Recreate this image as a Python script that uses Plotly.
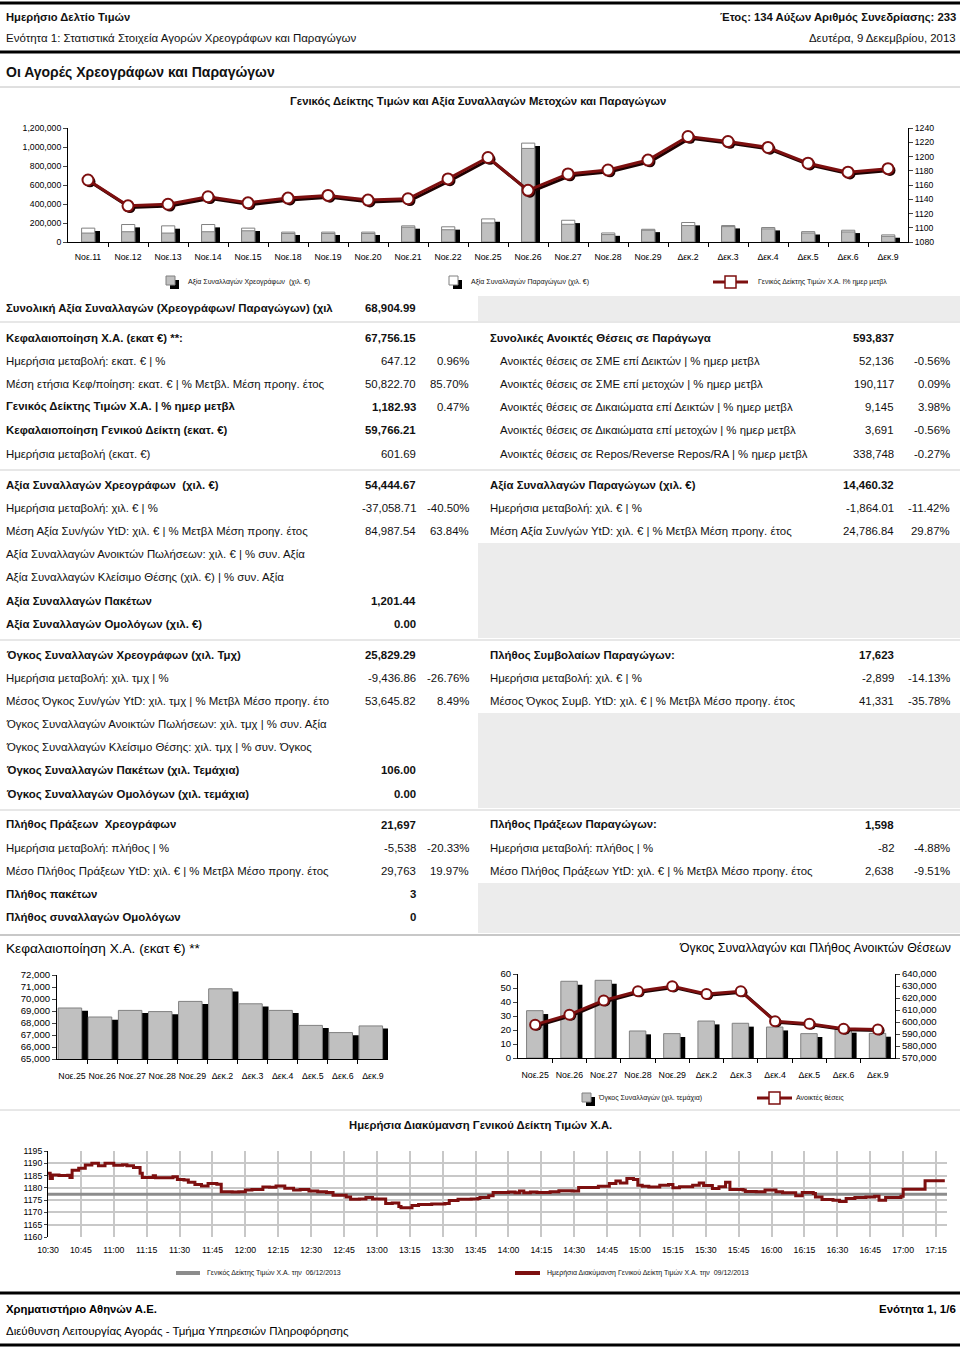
import plotly.graph_objects as go

W, H = 960, 1348
def px(x): return x / W
def py(y): return 1 - y / H

FONT = "Liberation Sans, Arial, sans-serif"
RED = "#7d0f0f"
SHADOW = "#1e0202"
TS = 11.4  # table font size

# ---------------- data ----------------
top_dates = ["Νοε.11", "Νοε.12", "Νοε.13", "Νοε.14", "Νοε.15", "Νοε.18", "Νοε.19", "Νοε.20",
             "Νοε.21", "Νοε.22", "Νοε.25", "Νοε.26", "Νοε.27", "Νοε.28", "Νοε.29", "Δεκ.2",
             "Δεκ.3", "Δεκ.4", "Δεκ.5", "Δεκ.6", "Δεκ.9"]
sec_value = [94000, 108000, 94000, 108000, 118000, 90000, 90000, 90000, 156000, 129000, 201000,
             985000, 187000, 78000, 124000, 173000, 162000, 138000, 95000, 106000, 60000]
der_value = [52000, 76000, 76000, 76000, 28000, 14000, 14000, 14000, 14000, 31000, 42000,
             56000, 42000, 17000, 10000, 32000, 11000, 14000, 14000, 18000, 15000]
gd_index = [1167.0, 1130.8, 1133.0, 1143.5, 1135.0, 1141.6, 1145.4, 1138.8, 1140.7, 1168.5, 1198.6,
            1152.5, 1175.5, 1181.0, 1195.0, 1228.0, 1221.0, 1212.7, 1190.6, 1178.0, 1182.93]

last_dates = ["Νοε.25", "Νοε.26", "Νοε.27", "Νοε.28", "Νοε.29", "Δεκ.2", "Δεκ.3", "Δεκ.4",
              "Δεκ.5", "Δεκ.6", "Δεκ.9"]
cap_values = [69250, 68500, 69050, 68950, 69800, 70850, 69600, 69050, 67800, 67200, 67756]
vol_contracts = [33.8, 54.8, 55.5, 19.3, 17.4, 26.4, 24.8, 22.1, 17.4, 20.5, 17.6]
open_interest = [597800, 606100, 618000, 625600, 629700, 623300, 625600, 600600, 598600, 594400, 593837]

intraday_times = ["10:30", "10:31", "10:32", "10:35", "10:39", "10:40", "10:41", "10:44", "10:47", "10:50",
                  "10:53", "10:56", "11:00", "11:04", "11:06", "11:09", "11:12", "11:13", "11:18", "11:19",
                  "11:24", "11:27", "11:29", "11:32", "11:34", "11:37", "11:40", "11:43", "11:47", "11:49",
                  "11:54", "11:57", "12:00", "12:03", "12:08", "12:11", "12:14", "12:18", "12:22", "12:25",
                  "12:29", "12:33", "12:37", "12:40", "12:46", "12:48", "12:52", "12:55", "12:58", "13:00",
                  "13:04", "13:07", "13:10", "13:11", "13:16", "13:19", "13:25", "13:31", "13:33", "13:37",
                  "13:43", "13:46", "13:47", "13:51", "13:53", "14:00", "14:03", "14:05", "14:07", "14:10",
                  "14:13", "14:19", "14:23", "14:29", "14:32", "14:38", "14:41", "14:46", "14:49", "14:51",
                  "14:54", "14:57", "14:59", "15:01", "15:04", "15:09", "15:13", "15:15", "15:18", "15:24",
                  "15:27", "15:29", "15:33", "15:36", "15:39", "15:41", "15:47", "15:48", "15:53", "15:57",
                  "16:02", "16:05", "16:11", "16:14", "16:19", "16:20", "16:23", "16:28", "16:31", "16:34",
                  "16:38", "16:43", "16:47", "16:49", "16:52", "16:59", "17:00", "17:09", "17:10", "17:19"]
intraday_values = [1185.9, 1183.8, 1185.2, 1185.0, 1185.1, 1184.2, 1187.2, 1188.0, 1189.3, 1190.0,
                   1189.0, 1190.0, 1189.2, 1189.4, 1189.0, 1188.3, 1185.9, 1184.2, 1184.9, 1184.1,
                   1184.1, 1184.5, 1183.4, 1183.2, 1182.3, 1181.4, 1180.8, 1181.8, 1181.5, 1178.4,
                   1178.3, 1178.4, 1179.1, 1179.3, 1180.3, 1180.2, 1180.8, 1179.8, 1179.1, 1179.3,
                   1178.7, 1178.4, 1178.1, 1177.0, 1176.3, 1175.4, 1175.5, 1176.1, 1175.5, 1175.5,
                   1173.6, 1173.8, 1172.4, 1171.9, 1172.8, 1173.2, 1173.4, 1173.6, 1174.9, 1175.4,
                   1175.5, 1175.7, 1176.1, 1176.8, 1178.1, 1178.3, 1178.0, 1178.7, 1178.0, 1178.3,
                   1178.1, 1178.4, 1178.8, 1178.7, 1180.1, 1180.1, 1180.7, 1181.8, 1182.8, 1182.0,
                   1183.8, 1183.4, 1181.1, 1180.7, 1180.3, 1181.1, 1181.4, 1180.0, 1180.4, 1181.1,
                   1182.0, 1181.0, 1179.7, 1180.4, 1182.3, 1179.3, 1179.1, 1178.5, 1178.4, 1179.1,
                   1178.4, 1178.0, 1176.8, 1178.1, 1177.7, 1176.3, 1175.3, 1175.0, 1174.4, 1175.7,
                   1176.1, 1176.3, 1176.6, 1175.0, 1176.1, 1176.6, 1179.4, 1179.4, 1182.93, 1182.93]
prev_close = 1177.39
session_day = "2013-12-09"

# table rows: (y, label, value, pct, bold)
left_block1 = [
    (338, "Κεφαλαιοποίηση Χ.Α. (εκατ €) **:", "67,756.15", "", True),
    (361, "Ημερήσια μεταβολή: εκατ. € | %", "647.12", "0.96%", False),
    (384, "Μέση ετήσια Κεφ/ποίηση: εκατ. € | % Μετβλ. Μέση προηγ. έτος", "50,822.70", "85.70%", False),
    (407, "Γενικός Δείκτης Τιμών Χ.Α. | % ημερ μετβλ", "1,182.93", "0.47%", True),
    (430, "Κεφαλαιοποίηση Γενικού Δείκτη (εκατ. €)", "59,766.21", "", True),
    (454, "Ημερήσια μεταβολή (εκατ. €)", "601.69", "", False),
]
right_block1 = [
    (338, "Συνολικές Ανοικτές Θέσεις σε Παράγωγα", "593,837", "", True),
    (361, "Ανοικτές θέσεις σε ΣΜΕ επί Δεικτών | % ημερ μετβλ", "52,136", "-0.56%", False),
    (384, "Ανοικτές θέσεις σε ΣΜΕ επί μετοχών | % ημερ μετβλ", "190,117", "0.09%", False),
    (407, "Ανοικτές θέσεις σε Δικαιώματα επί Δεικτών | % ημερ μετβλ", "9,145", "3.98%", False),
    (430, "Ανοικτές θέσεις σε Δικαιώματα επί μετοχών | % ημερ μετβλ", "3,691", "-0.56%", False),
    (454, "Ανοικτές θέσεις σε Repos/Reverse Repos/RA | % ημερ μετβλ", "338,748", "-0.27%", False),
]
left_rest = [
    (485, "Αξία Συναλλαγών Χρεογράφων  (χιλ. €)", "54,444.67", "", True),
    (508, "Ημερήσια μεταβολή: χιλ. € | %", "-37,058.71", "-40.50%", False),
    (531, "Μέση Αξία Συν/γών YtD: χιλ. € | % Μετβλ Μέση προηγ. έτος", "84,987.54", "63.84%", False),
    (554, "Αξία Συναλλαγών Ανοικτών Πωλήσεων: χιλ. € | % συν. Αξία", "", "", False),
    (577, "Αξία Συναλλαγών Κλείσιμο Θέσης (χιλ. €) | % συν. Αξία", "", "", False),
    (601, "Αξία Συναλλαγών Πακέτων", "1,201.44", "", True),
    (624, "Αξία Συναλλαγών Ομολόγων (χιλ. €)", "0.00", "", True),
    (655, "Όγκος Συναλλαγών Χρεογράφων (χιλ. Τμχ)", "25,829.29", "", True),
    (678, "Ημερήσια μεταβολή: χιλ. τμχ | %", "-9,436.86", "-26.76%", False),
    (701, "Μέσος Όγκος Συν/γών YtD: χιλ. τμχ | % Μετβλ Μέσο προηγ. έτο", "53,645.82", "8.49%", False),
    (724, "Όγκος Συναλλαγών Ανοικτών Πωλήσεων: χιλ. τμχ | % συν. Αξία", "", "", False),
    (747, "Όγκος Συναλλαγών Κλείσιμο Θέσης: χιλ. τμχ | % συν. Όγκος", "", "", False),
    (770, "Όγκος Συναλλαγών Πακέτων (χιλ. Τεμάχια)", "106.00", "", True),
    (794, "Όγκος Συναλλαγών Ομολόγων (χιλ. τεμάχια)", "0.00", "", True),
    (825, "Πλήθος Πράξεων  Χρεογράφων", "21,697", "", True),
    (848, "Ημερήσια μεταβολή: πλήθος | %", "-5,538", "-20.33%", False),
    (871, "Μέσο Πλήθος Πράξεων YtD: χιλ. € | % Μετβλ Μέσο προηγ. έτος", "29,763", "19.97%", False),
    (894, "Πλήθος πακέτων", "3", "", True),
    (917, "Πλήθος συναλλαγών Ομολόγων", "0", "", True),
]
right_rest = [
    (485, "Αξία Συναλλαγών Παραγώγων (χιλ. €)", "14,460.32", "", True),
    (508, "Ημερήσια μεταβολή: χιλ. € | %", "-1,864.01", "-11.42%", False),
    (531, "Μέση Αξία Συν/γών YtD: χιλ. € | % Μετβλ Μέση προηγ. έτος", "24,786.84", "29.87%", False),
    (655, "Πλήθος Συμβολαίων Παραγώγων:", "17,623", "", True),
    (678, "Ημερήσια μεταβολή: χιλ. € | %", "-2,899", "-14.13%", False),
    (701, "Μέσος Όγκος Συμβ. YtD: χιλ. € | % Μετβλ Μέσο προηγ. έτος", "41,331", "-35.78%", False),
    (825, "Πλήθος Πράξεων Παραγώγων:", "1,598", "", True),
    (848, "Ημερήσια μεταβολή: πλήθος | %", "-82", "-4.88%", False),
    (871, "Μέσο Πλήθος Πράξεων YtD: χιλ. € | % Μετβλ Μέσο προηγ. έτος", "2,638", "-9.51%", False),
]

fig = go.Figure()

# ---------------- top chart ----------------
idx = list(range(len(top_dates)))
total_top = [s + d for s, d in zip(sec_value, der_value)]
fig.add_trace(go.Bar(x=idx, y=[max(t - 30000, 0) for t in total_top], offset=-0.03, width=0.33,
                     marker=dict(color="black", line=dict(width=0)), xaxis="x", yaxis="y"))
fig.add_trace(go.Bar(x=idx, y=total_top, offset=-0.16, width=0.33,
                     marker=dict(color="white", line=dict(color="#808080", width=1)), xaxis="x", yaxis="y"))
fig.add_trace(go.Bar(x=idx, y=sec_value, offset=-0.16, width=0.33,
                     marker=dict(color="#c0c0c0", line=dict(color="#808080", width=1)), xaxis="x", yaxis="y"))
fig.add_trace(go.Scatter(x=[i + 0.05 for i in idx], y=[v - 2.5 for v in gd_index], mode="lines+markers",
                         line=dict(color=SHADOW, width=3), marker=dict(size=11, color=SHADOW),
                         xaxis="x", yaxis="y2"))
fig.add_trace(go.Scatter(x=idx, y=gd_index, mode="lines+markers", line=dict(color=RED, width=3),
                         marker=dict(size=11, color="white", line=dict(color=RED, width=2)),
                         xaxis="x", yaxis="y2"))

# ---------------- bottom-left chart ----------------
idx2 = list(range(len(last_dates)))
fig.add_trace(go.Bar(x=idx2, y=[v - 220 for v in cap_values], offset=-0.25, width=0.78,
                     marker=dict(color="black", line=dict(width=0)), xaxis="x3", yaxis="y3"))
fig.add_trace(go.Bar(x=idx2, y=cap_values, offset=-0.46, width=0.78,
                     marker=dict(color="#c0c0c0", line=dict(color="#808080", width=1)), xaxis="x3", yaxis="y3"))

# ---------------- bottom-right chart ----------------
fig.add_trace(go.Bar(x=idx2, y=[v - 2.4 for v in vol_contracts], offset=-0.1, width=0.48,
                     marker=dict(color="black", line=dict(width=0)), xaxis="x4", yaxis="y4"))
fig.add_trace(go.Bar(x=idx2, y=vol_contracts, offset=-0.25, width=0.48,
                     marker=dict(color="#c0c0c0", line=dict(color="#808080", width=1)), xaxis="x4", yaxis="y4"))
fig.add_trace(go.Scatter(x=[i + 0.05 for i in idx2], y=[v - 900 for v in open_interest], mode="lines+markers",
                         line=dict(color=SHADOW, width=3), marker=dict(size=10, color=SHADOW),
                         xaxis="x4", yaxis="y5"))
fig.add_trace(go.Scatter(x=idx2, y=open_interest, mode="lines+markers", line=dict(color=RED, width=3),
                         marker=dict(size=10, color="white", line=dict(color=RED, width=2)),
                         xaxis="x4", yaxis="y5"))

# ---------------- intraday chart ----------------
t_full = [f"{session_day} {t}" for t in intraday_times]
x_start, x_end = f"{session_day} 10:30", f"{session_day} 17:20"
fig.add_trace(go.Scatter(x=[x_start, x_end], y=[prev_close, prev_close], mode="lines",
                         line=dict(color="#8c8c8c", width=3), xaxis="x6", yaxis="y6"))
fig.add_trace(go.Scatter(x=t_full, y=intraday_values, mode="lines", line=dict(color=RED, width=3, shape="hv"),
                         xaxis="x6", yaxis="y6"))

tickfont9 = dict(family=FONT, size=8.7, color="black")
tickfont10 = dict(family=FONT, size=9.6, color="black")
tickfontx = dict(family=FONT, size=8.8, color="black")
axis_common = dict(showline=True, linecolor="black", linewidth=1, showgrid=False, zeroline=False,
                   automargin=False)

fig.update_layout(
    width=W, height=H, margin=dict(l=0, r=0, t=0, b=0, pad=0), autosize=False,
    paper_bgcolor="white", plot_bgcolor="rgba(0,0,0,0)",
    showlegend=False, barmode="overlay", font=dict(family=FONT, color="black"),
    xaxis=dict(domain=[px(68), px(908)], range=[-0.5, 20.5], tickvals=idx, ticktext=top_dates,
               ticks="", tickfont=tickfont9, anchor="y", ticklabelstandoff=7, tickangle=0,
               minor=dict(tickvals=[i + 0.5 for i in idx[:-1]], ticks="outside", ticklen=4, tickcolor="black"),
               **axis_common),
    yaxis=dict(domain=[py(242), py(128)], range=[0, 1200000], dtick=200000, tickformat=",",
               ticks="outside", ticklen=4, tickfont=tickfont9, anchor="x", **axis_common),
    yaxis2=dict(overlaying="y", side="right", range=[1080, 1240], dtick=20, ticks="outside", ticklen=4,
                tickfont=tickfont9, anchor="x", **axis_common),
    xaxis3=dict(domain=[px(57), px(388)], range=[-0.5, 10.5], tickvals=idx2, ticktext=last_dates,
                ticks="", tickfont=tickfontx, anchor="y3", ticklabelstandoff=8, tickangle=0,
                minor=dict(tickvals=[i + 0.5 for i in idx2[:-1]], ticks="outside", ticklen=4, tickcolor="black"),
                **axis_common),
    yaxis3=dict(domain=[py(1059), py(975)], range=[65000, 72000], dtick=1000, tickformat=",",
                ticks="outside", ticklen=4, tickfont=tickfont10, anchor="x3", **axis_common),
    xaxis4=dict(domain=[px(518), px(895)], range=[-0.5, 10.5], tickvals=idx2, ticktext=last_dates,
                ticks="", tickfont=tickfontx, anchor="y4", ticklabelstandoff=8, tickangle=0,
                minor=dict(tickvals=[i + 0.5 for i in idx2[:-1]], ticks="outside", ticklen=4, tickcolor="black"),
                **axis_common),
    yaxis4=dict(domain=[py(1058), py(974)], range=[0, 60], dtick=10, ticks="outside", ticklen=4,
                tickfont=tickfont10, anchor="x4", **axis_common),
    yaxis5=dict(overlaying="y4", side="right", range=[570000, 640000], dtick=10000, tickformat=",",
                ticks="outside", ticklen=4, tickfont=tickfont10, anchor="x4", **axis_common),
    xaxis6=dict(domain=[px(48), px(947)], type="date", range=[x_start, x_end], dtick=15 * 60 * 1000,
                tick0=x_start, tickformat="%H:%M", showgrid=True, gridcolor="#c8c8c8", gridwidth=2,
                showline=False, zeroline=False, ticks="", tickfont=tickfont9, anchor="y6",
                ticklabelstandoff=6, tickangle=0, automargin=False),
    yaxis6=dict(domain=[py(1237), py(1151)], range=[1160, 1195], dtick=5, showgrid=True, gridcolor="#c8c8c8",
                gridwidth=2, showline=True, linecolor="black", linewidth=1, zeroline=False, ticks="outside",
                ticklen=3, tickfont=tickfont9, anchor="x6", automargin=False),
)

shapes = []
annotations = []

def hline(y, x0, x1, color, width):
    shapes.append(dict(type="line", xref="paper", yref="paper", x0=px(x0), x1=px(x1), y0=py(y), y1=py(y),
                       line=dict(color=color, width=width)))

def rect(x0, y0, x1, y1, fill, line_color=None, lw=0):
    shapes.append(dict(type="rect", xref="paper", yref="paper", x0=px(x0), x1=px(x1), y0=py(y1), y1=py(y0),
                       fillcolor=fill, line=dict(color=line_color or fill, width=lw), layer="below"))

def text(x, y, s, size=TS, bold=False, anchor="left", color="#111111"):
    annotations.append(dict(xref="paper", yref="paper", x=px(x), y=py(y), text=f"<b>{s}</b>" if bold else s,
                            showarrow=False, xanchor=anchor, yanchor="middle", borderpad=0,
                            font=dict(family=FONT, size=size, color=color)))

# header / footer rules
hline(3, 0, 960, "black", 3)
hline(52, 0, 960, "black", 3)
hline(87, 0, 960, "#c0c0c0", 1)
hline(1293, 0, 960, "black", 3)
hline(1345, 0, 960, "black", 3)

# table background / separators
rect(478, 296, 960, 321, "#ececec")
rect(478, 543, 960, 638, "#ececec")
rect(478, 713, 960, 808, "#ececec")
rect(478, 883, 960, 933, "#ececec")
for y in (322, 470, 640, 810):
    hline(y, 0, 960, "#cfcfcf", 1)
hline(935, 0, 960, "#c8c8c8", 2)
hline(1110, 0, 960, "#d0d0d0", 1)

# header texts
text(5, 17, "Ημερήσιο Δελτίο Τιμών", 11.2, True)
text(5, 38, "Ενότητα 1: Στατιστικά Στοιχεία Αγορών Χρεογράφων και Παραγώγων", 11.5)
text(957, 17, "Έτος: 134 Αύξων Αριθμός Συνεδρίασης: 233", 11.3, True, "right")
text(957, 38, "Δευτέρα, 9 Δεκεμβρίου, 2013", 11.4, False, "right")
text(5, 72, "Οι Αγορές Χρεογράφων και Παραγώγων", 14, True)
text(478, 101, "Γενικός Δείκτης Τιμών και Αξία Συναλλαγών Μετοχών και Παραγώγων", 11.3, True, "center")

# top chart legend
rect(170, 280, 179, 289, "black")
rect(166, 276, 175, 285, "#c0c0c0", "#808080", 1)
text(187, 282, "Αξία Συναλλαγών Χρεογράφων  (χιλ. €)", 7)
rect(453, 280, 462, 289, "black")
rect(449, 276, 458, 285, "white", "#808080", 1)
text(470, 282, "Αξία Συναλλαγών Παραγώγων (χιλ. €)", 7)
hline(282, 713, 748, RED, 3)
shapes.append(dict(type="rect", xref="paper", yref="paper", x0=px(725), x1=px(736), y0=py(288), y1=py(276),
                   fillcolor="white", line=dict(color=RED, width=1.5)))
text(757, 282, "Γενικός Δείκτης Τιμών Χ.Α. l% ημερ μετβλ", 7)

# table
text(5, 308, "Συνολική Αξία Συναλλαγών (Χρεογράφων/ Παραγώγων) (χιλ", TS, True)
text(417, 308, "68,904.99", TS, True, "right")

def left_row(y, label, value, pct, bold):
    text(5, y, label, TS, bold)
    if value:
        text(417, y, value, TS, bold, "right")
    if pct:
        text(470, y, pct, TS, False, "right")

def right_row(y, label, value, pct, bold, x_label):
    text(x_label, y, label, TS, bold)
    if value:
        text(895, y, value, TS, bold, "right")
    if pct:
        text(951, y, pct, TS, False, "right")

for row in left_block1 + left_rest:
    left_row(*row)
for i, row in enumerate(right_block1):
    right_row(*row, 489 if i == 0 else 499)
for row in right_rest:
    right_row(*row, 489)

# lower chart titles & legends
text(5, 948, "Κεφαλαιοποίηση Χ.Α. (εκατ €) **", 13.6, False, "left", "#000000")
text(952, 948, "Όγκος Συναλλαγών και Πλήθος Ανοικτών Θέσεων", 12.3, False, "right", "#000000")
rect(586, 1097, 595, 1106, "black")
rect(582, 1093, 591, 1102, "#c0c0c0", "#808080", 1)
text(597, 1098, "Όγκος Συναλλαγών (χιλ. τεμάχια)", 7)
hline(1098, 757, 792, RED, 3)
shapes.append(dict(type="rect", xref="paper", yref="paper", x0=px(769), x1=px(780), y0=py(1104), y1=py(1092),
                   fillcolor="white", line=dict(color=RED, width=1.5)))
text(795, 1098, "Ανοικτές θέσεις", 7)

text(480, 1125, "Ημερήσια Διακύμανση Γενικού Δείκτη Τιμών Χ.Α.", 11.3, True, "center")
hline(1273, 176, 200, "#8c8c8c", 4)
text(206, 1273, "Γενικός Δείκτης Τιμών Χ.Α. την  06/12/2013", 7)
hline(1273, 515, 540, RED, 4)
text(546, 1273, "Ημερήσια Διακύμανση Γενικού Δείκτη Τιμών Χ.Α. την  09/12/2013", 7)

# footer
text(5, 1309, "Χρηματιστήριο Αθηνών Α.Ε.", 11.3, True, "left", "#000000")
text(957, 1309, "Ενότητα 1, 1/6", 11.5, True, "right", "#000000")
text(5, 1331, "Διεύθυνση Λειτουργίας Αγοράς - Τμήμα Υπηρεσιών Πληροφόρησης", 11.5, False, "left", "#000000")

fig.update_layout(shapes=shapes, annotations=annotations)
fig.write_html("out.html", config={"displayModeBar": False},
               post_script="document.body.style.margin='0';document.body.style.padding='0';"
                           "document.documentElement.style.overflow='hidden';")
